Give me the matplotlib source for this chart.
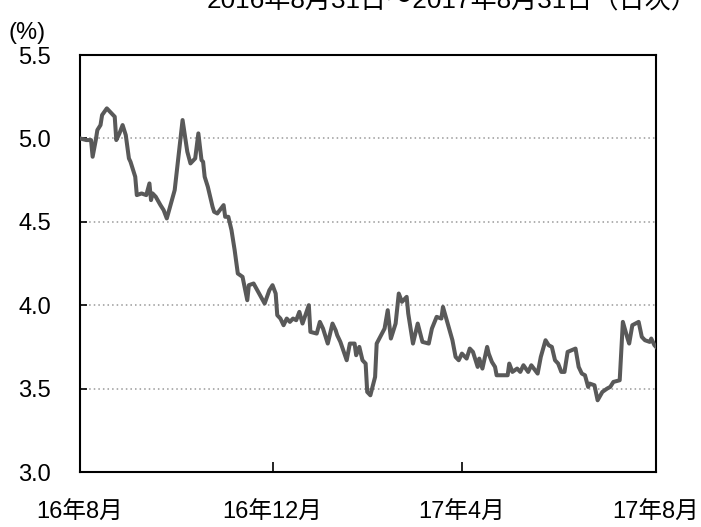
import matplotlib
matplotlib.use("Agg")
import matplotlib.pyplot as plt
import numpy as np
import pandas as pd

plt.rcParams['font.family'] = ['Liberation Sans', 'Noto Sans CJK JP', 'DejaVu Sans']

start = pd.Timestamp('2016-08-31')
day_offsets = [0, 4, 7, 8, 10, 11, 13, 14, 17, 20, 22, 23, 25, 27, 29, 31, 32, 35, 36, 39,
               42, 44, 45, 46, 48, 51, 53, 55, 60, 65, 68, 70, 73, 75, 77, 78, 79, 81, 84, 85,
               87, 91, 92, 94, 96, 98, 100, 103, 106, 107, 110, 117, 120, 122, 124, 125, 127, 129, 131, 133,
               135, 137, 139, 141, 145, 146, 150, 152, 154, 157, 160, 162, 163, 165, 169, 171, 174, 175, 177, 179,
               181, 182, 184, 187, 188, 193, 195, 197, 200, 202, 204, 207, 208, 211, 214, 217, 221, 223, 226, 229,
               230, 233, 236, 238, 240, 242, 245, 247, 249, 252, 253, 255, 258, 259, 261, 263, 264, 266, 271, 272,
               274, 277, 279, 281, 284, 286, 290, 292, 295, 297, 299, 301, 303, 305, 307, 309, 314, 316, 318, 320,
               322, 323, 326, 328, 331, 334, 336, 338, 342, 343, 344, 347, 348, 350, 354, 356, 358, 361, 362, 364, 365]
yields = [5.00, 4.99, 4.99, 4.89, 4.99, 5.05, 5.08, 5.14, 5.18, 5.15, 5.13, 4.99, 5.03, 5.08, 5.02, 4.88, 4.86, 4.77, 4.66, 4.67,
          4.66, 4.73, 4.63, 4.67, 4.65, 4.60, 4.57, 4.52, 4.69, 5.11, 4.92, 4.85, 4.88, 5.03, 4.87, 4.86, 4.77, 4.71, 4.59, 4.56,
          4.55, 4.60, 4.53, 4.53, 4.45, 4.33, 4.19, 4.17, 4.03, 4.12, 4.13, 4.01, 4.09, 4.12, 4.07, 3.94, 3.92, 3.88, 3.92, 3.90,
          3.92, 3.91, 3.96, 3.89, 4.00, 3.84, 3.83, 3.90, 3.86, 3.77, 3.89, 3.85, 3.82, 3.78, 3.67, 3.77, 3.77, 3.70, 3.75, 3.67,
          3.65, 3.48, 3.46, 3.57, 3.77, 3.86, 3.97, 3.80, 3.89, 4.07, 4.02, 4.05, 3.95, 3.77, 3.89, 3.78, 3.77, 3.86, 3.93, 3.92,
          3.99, 3.89, 3.79, 3.69, 3.67, 3.71, 3.68, 3.74, 3.72, 3.63, 3.68, 3.62, 3.75, 3.71, 3.66, 3.63, 3.58, 3.58, 3.58, 3.65,
          3.60, 3.62, 3.60, 3.64, 3.60, 3.64, 3.59, 3.69, 3.79, 3.76, 3.75, 3.67, 3.65, 3.60, 3.60, 3.72, 3.74, 3.63, 3.59, 3.58,
          3.51, 3.53, 3.52, 3.43, 3.48, 3.50, 3.51, 3.54, 3.55, 3.73, 3.90, 3.80, 3.77, 3.88, 3.90, 3.81, 3.79, 3.78, 3.80, 3.76, 3.75]

tick_dates = ['2016-08-31', '2016-12-31', '2017-04-30', '2017-08-31']
tick_labels = ['16年8月', '16年12月', '17年4月', '17年8月']
y_ticks = [3.0, 3.5, 4.0, 4.5, 5.0, 5.5]
title = '2016年8月31日～2017年8月31日（日次）'

dates = [start + pd.Timedelta(days=d) for d in day_offsets]

fig = plt.figure(figsize=(7.01, 5.27), dpi=100)
ax = fig.add_axes([80/701, 1-472/527, 576/701, 417/527])

for yv in y_ticks[1:-1]:
    ax.axhline(yv, color='#999999', lw=1.1, ls=(0, (1, 2)), zorder=1)

ax.plot(dates, yields, color='#595959', lw=2.9, zorder=3, solid_joinstyle='round')

ax.set_xlim(pd.Timestamp(tick_dates[0]), pd.Timestamp(tick_dates[-1]))
ax.set_ylim(3.0, 5.5)
ax.set_yticks(y_ticks)
ax.set_yticklabels([f'{v:.1f}' for v in y_ticks])
ax.set_xticks([pd.Timestamp(t) for t in tick_dates])
ax.set_xticklabels(tick_labels)

ax.tick_params(axis='y', direction='in', length=5, width=1.2, pad=21, labelsize=17, colors='black')
ax.tick_params(axis='x', direction='in', length=7, width=1.2, pad=21.5, labelsize=17, colors='black')
for s in ax.spines.values():
    s.set_linewidth(1.5)
    s.set_color('black')

fig.text(8/701, 1-44/527, '(%)', fontsize=17, ha='left', va='bottom')
fig.text(452/701, 1-8/527, title, fontsize=18.8, ha='center', va='baseline')

fig.savefig('out.png', dpi=100)
